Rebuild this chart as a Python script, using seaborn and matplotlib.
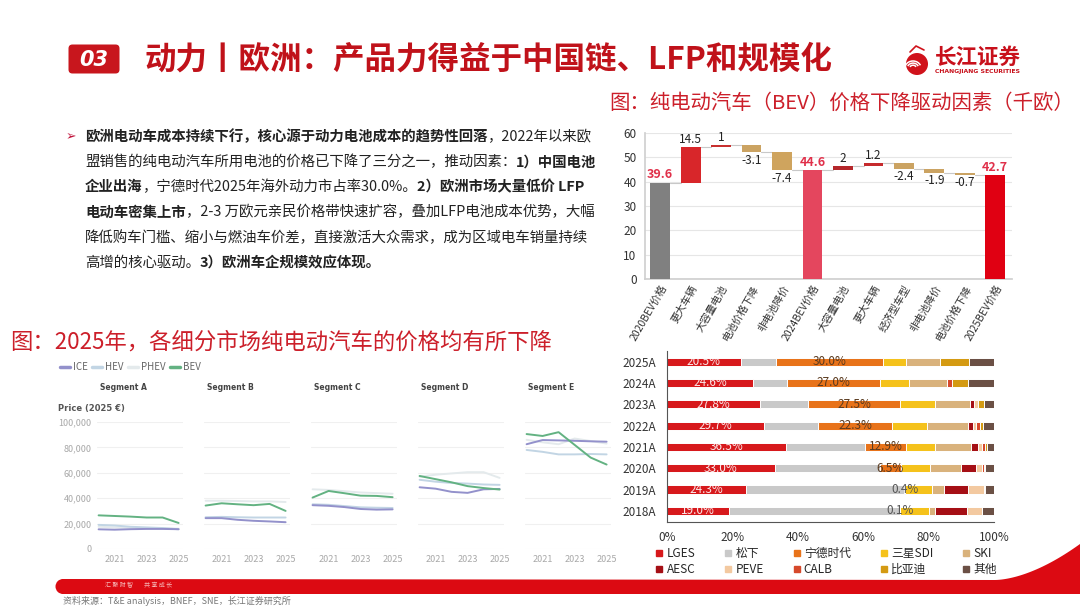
import numpy as np
import pandas as pd
import matplotlib
matplotlib.use("Agg")
import matplotlib.pyplot as plt
import seaborn as sns
from matplotlib.patches import FancyBboxPatch, Circle, Polygon, Arc
from matplotlib.lines import Line2D
from matplotlib.ticker import FuncFormatter

# ---------------- data ----------------
# waterfall: BEV price drivers (k EUR)
wf_labels = ["2020BEV价格", "更大车辆", "大容量电池", "电池价格下降", "非电池降价", "2024BEV价格",
             "大容量电池", "更大车辆", "经济型车型", "非电池降价", "电池价格下降", "2025BEV价格"]
wf_values = [39.6, 14.5, 1, -3.1, -7.4, 44.6, 2, 1.2, -2.4, -1.9, -0.7, 42.7]
wf_total = [True, False, False, False, False, True, False, False, False, False, False, True]
wf_colors = ["#808080", "#D8262A", "#C8302F", "#CBA362", "#CFA45E", "#E4465E",
             "#B5272B", "#C62A2D", "#CBA362", "#CBA362", "#CBA362", "#E00012"]

# battery maker share (%), 2025A at top
years = ["2025A", "2024A", "2023A", "2022A", "2021A", "2020A", "2019A", "2018A"]
makers = ["LGES", "松下", "宁德时代", "三星SDI", "SKI", "AESC", "PEVE", "CALB", "比亚迪", "其他"]
lges = [22.6, 26.4, 28.5, 29.7, 36.5, 33.0, 24.3, 19.0]
panasonic = [10.8, 10.3, 14.6, 16.6, 24.0, 32.0, 48.2, 52.3]
catl = [32.7, 28.5, 28.2, 22.5, 12.6, 6.5, 0.4, 0.1]
sdi = [6.9, 8.8, 10.7, 10.6, 8.8, 9.0, 8.2, 8.6]
ski = [10.6, 11.7, 10.8, 12.5, 11.0, 9.4, 3.5, 2.0]
aesc = [0.0, 0.0, 1.0, 1.7, 2.2, 4.5, 7.6, 9.8]
peve = [0.0, 0.0, 1.2, 1.0, 1.2, 2.0, 4.6, 4.6]
calb = [0.0, 1.5, 0.0, 1.0, 0.8, 0.4, 0.0, 0.0]
byd = [8.7, 5.0, 1.9, 0.9, 0.7, 0.4, 0.4, 0.0]
others = [7.7, 7.8, 3.1, 3.5, 2.2, 2.8, 2.8, 3.6]
lges_labels = ["20.5%", "24.6%", "27.8%", "29.7%", "36.5%", "33.0%", "24.3%", "19.0%"]
catl_labels = ["30.0%", "27.0%", "27.5%", "22.3%", "12.9%", "6.5%", "0.4%", "0.1%"]
maker_colors = ["#D7191C", "#C9C9C9", "#E8731A", "#F5C21B", "#D9B27C",
                "#A50F15", "#F3C9A0", "#D6492B", "#D49A12", "#6B5045"]

# price by segment (k EUR, 2025 money)
price_years = [2020, 2021, 2022, 2023, 2024, 2025]
segments = ["Segment A", "Segment B", "Segment C", "Segment D", "Segment E"]
ice = {"Segment A": [15.5, 15.2, 15.6, 15.8, 15.8, 15.6],
       "Segment B": [24.3, 24.3, 23.0, 22.2, 21.7, 21.1],
       "Segment C": [34.5, 34.0, 33.0, 31.5, 31.0, 31.2],
       "Segment D": [48.6, 47.5, 45.0, 44.2, 47.0, 47.3],
       "Segment E": [82.5, 85.8, 85.5, 85.2, 84.8, 84.5]}
hev = {"Segment A": [19.0, 18.5, 17.5, 17.0, 16.5, 15.5],
       "Segment B": [25.0, 25.3, 25.0, 24.8, 24.8, 24.8],
       "Segment C": [35.2, 34.8, 33.8, 32.8, 32.5, 32.3],
       "Segment D": [54.5, 53.0, 52.0, 51.5, 50.8, 50.5],
       "Segment E": [78.0, 76.5, 74.5, 74.5, 74.8, 74.5]}
phev = {"Segment A": [17.5, 17.0, 16.8, 16.5, 16.5, 16.0],
        "Segment B": [38.0, 38.0, 37.8, 37.5, 37.5, 37.0],
        "Segment C": [47.0, 46.5, 45.5, 44.5, 44.0, 43.5],
        "Segment D": [57.0, 58.5, 59.5, 60.5, 60.5, 56.0],
        "Segment E": [86.0, 84.0, 82.5, 87.0, 85.0, 83.0]}
bev = {"Segment A": [26.5, 26.0, 25.5, 24.8, 24.8, 20.5],
       "Segment B": [34.2, 36.0, 35.2, 34.5, 35.5, 30.0],
       "Segment C": [40.5, 45.7, 43.9, 42.0, 41.8, 40.8],
       "Segment D": [57.5, 55.0, 52.5, 49.5, 48.0, 46.8],
       "Segment E": [90.5, 89.0, 92.0, 82.0, 72.0, 66.5]}
line_colors = {"ICE": "#9391CB", "HEV": "#C2D5E4", "PHEV": "#E4EAEC", "BEV": "#63B282"}

# ---------------- setup ----------------
sns.set_theme(style="white")
plt.rcParams["font.family"] = ["Noto Sans CJK SC", "DejaVu Sans"]
plt.rcParams["axes.unicode_minus"] = False

W, H = 1080, 608
RED = "#C8161D"


def box(l, t, r, b):
    return [l / W, 1 - b / H, (r - l) / W, (b - t) / H]


fig = plt.figure(figsize=(10.8, 6.08), dpi=100)
bg = fig.add_axes([0, 0, 1, 1], zorder=0)
bg.set_xlim(0, W)
bg.set_ylim(H, 0)
bg.axis("off")

# header
bg.add_patch(FancyBboxPatch((70, 46), 48, 26, boxstyle="round,pad=1.5,rounding_size=4",
                            color=RED, lw=0))
bg.text(94, 60, "03", color="white", fontsize=15, fontweight="bold", style="italic",
        ha="center", va="center", family="DejaVu Sans")
bg.text(144, 60, "动力丨欧洲：产品力得益于中国链、LFP和规模化", color="#C0121A",
        fontsize=22.7, fontweight="bold", ha="left", va="center")

# logo
bg.add_patch(Circle((917, 64), 11, color="#D0121B", lw=0))
for r in (4, 7, 10):
    bg.add_patch(Arc((913, 68), r * 1.6, r * 1.4, theta1=200, theta2=340, color="white", lw=1.1))
bg.plot([910, 916, 924], [52, 46, 50], color="#D0121B", lw=1.2)
bg.text(935, 57, "长江证券", color="#C8101B", fontsize=15.5, fontweight="bold", ha="left", va="center")
bg.text(935, 71, "CHANGJIANG SECURITIES", color="#C8101B", fontsize=4.4, fontweight="bold",
        ha="left", va="center", family="DejaVu Sans")

bg.text(609, 103, "图：纯电动汽车（BEV）价格下降驱动因素（千欧）", color="#CC1F2A",
        fontsize=14.7, ha="left", va="center")
bg.text(10, 342, "图：2025年，各细分市场纯电动汽车的价格均有所下降", color="#CC1F2A",
        fontsize=16.1, ha="left", va="center")

# paragraph with mixed weights
para = [
    [("欧洲电动车成本持续下行，核心源于动力电池成本的趋势性回落", "bold"), ("，2022年以来欧", "normal")],
    [("盟销售的纯电动汽车所用电池的价格已下降了三分之一，推动因素：", "normal"), ("1）中国电池", "bold")],
    [("企业出海", "bold"), ("，宁德时代2025年海外动力市占率30.0%。", "normal"), ("2）欧洲市场大量低价 LFP", "bold")],
    [("电动车密集上市", "bold"), ("，2-3 万欧元亲民价格带快速扩容，叠加LFP电池成本优势，大幅", "normal")],
    [("降低购车门槛、缩小与燃油车价差，直接激活大众需求，成为区域电车销量持续", "normal")],
    [("高增的核心驱动。", "normal"), ("3）欧洲车企规模效应体现。", "bold")],
]
bg.text(66, 137, "➢", color="#C0143C", fontsize=9, ha="left", va="center",
        family=["DejaVu Sans"])
for i, parts in enumerate(para):
    y = 137 + i * 25.2
    t = bg.text(85, y, parts[0][0], fontsize=10.4, fontweight=parts[0][1], color="#222222",
                ha="left", va="center")
    for s, w in parts[1:]:
        t = bg.annotate(s, xy=(1, 0), xycoords=t, fontsize=10.4, fontweight=w,
                        color="#222222", ha="left", va="bottom")

# footer
xs = np.linspace(995, 1080, 40)
top = 580 - 36 * ((xs - 995) / 85) ** 1.7
pts = [(62, 579)] + list(zip(xs, top)) + [(1080, 594), (62, 594)]
bg.add_patch(Polygon(pts, closed=True, color="#DC0A12", lw=0))
bg.add_patch(Circle((63, 586.5), 7.5, color="#DC0A12", lw=0))
bg.text(105, 585, "汇 聚 财 智        共 享 成 长", color="#F6B8B8", fontsize=4.3,
        ha="left", va="center")
bg.text(63, 601, "资料来源：T&E analysis，BNEF，SNE，长江证券研究所", color="#777777",
        fontsize=6.5, ha="left", va="center")

# ---------------- waterfall ----------------
ax1 = fig.add_axes(box(645, 133, 1012, 279), zorder=1)
run = 0.0
bottoms, heights, levels = [], [], []
for v, tot in zip(wf_values, wf_total):
    if tot:
        b, h = 0.0, v
        run = v
    elif v >= 0:
        b, h = run, v
        run += v
    else:
        b, h = run + v, -v
        run += v
    bottoms.append(b)
    heights.append(h)
    levels.append(run)
pos = np.arange(len(wf_values))
ax1.bar(pos, heights, bottom=bottoms, width=0.65, color=wf_colors, lw=0, zorder=3)
for i in range(len(pos) - 1):
    ax1.plot([i + 0.325, i + 0.675], [levels[i], levels[i]], color="#C8C8C8", lw=0.8, zorder=2)
for i, (v, tot) in enumerate(zip(wf_values, wf_total)):
    txt = f"{v:g}"
    if tot:
        ax1.text(i, heights[i] + 0.6, txt, ha="center", va="bottom", color="#E0304A",
                 fontsize=9, fontweight="bold")
    elif v >= 0:
        ax1.text(i, bottoms[i] + heights[i] + 0.4, txt, ha="center", va="bottom",
                 color="#222222", fontsize=8.5)
    else:
        ax1.text(i, bottoms[i] - 0.5, txt, ha="center", va="top", color="#222222", fontsize=8.5)
ax1.set_xlim(-0.5, 11.55)
ax1.set_ylim(0, 60)
ax1.set_yticks(range(0, 61, 10))
ax1.set_xticks(pos)
ax1.set_xticklabels(wf_labels, rotation=60, ha="right", rotation_mode="anchor", fontsize=7.5,
                    color="#333333")
ax1.tick_params(axis="y", labelsize=8.5, colors="#333333", length=0, pad=6)
ax1.tick_params(axis="x", length=0, pad=3)
ax1.grid(axis="y", color="#E6E6E6", lw=0.8, zorder=0)
ax1.set_axisbelow(True)
for s in ("top", "right"):
    ax1.spines[s].set_visible(False)
ax1.spines["left"].set_color("#D0D0D0")
ax1.spines["bottom"].set_color("#D0D0D0")

# ---------------- stacked share bars ----------------
ax2 = fig.add_axes(box(667, 351, 994, 521.5), zorder=1)
shares = pd.DataFrame(dict(zip(makers, [lges, panasonic, catl, sdi, ski, aesc, peve, calb,
                                        byd, others])), index=years)
cum = shares.cumsum(axis=1)
for m, c in reversed(list(zip(makers, maker_colors))):
    sns.barplot(x=cum[m].values, y=years, color=c, width=0.38, saturation=1,
                edgecolor="white", linewidth=0.7, orient="h", ax=ax2)
lges_mid = cum["LGES"] - shares["LGES"] / 2
catl_mid = cum["宁德时代"] - shares["宁德时代"] / 2
for j in range(len(years)):
    ax2.text(lges_mid.iloc[j], j, lges_labels[j], ha="center", va="center", color="white",
             fontsize=8.5, alpha=0.9)
    ax2.text(catl_mid.iloc[j], j, catl_labels[j], ha="center", va="center",
             color="#5A3A1E" if shares["宁德时代"].iloc[j] > 3 else "#555555", fontsize=8.5)
ax2.set_xlim(0, 100)
ax2.set_ylim(len(years) - 0.5, -0.5)
ax2.set_xticks(range(0, 101, 20))
ax2.set_xticklabels([f"{v}%" for v in range(0, 101, 20)])
ax2.set_yticks(np.arange(-0.5, len(years), 1.0), minor=True)
ax2.tick_params(axis="y", which="major", length=0, labelsize=8.5, colors="#333333", pad=8)
ax2.tick_params(axis="y", which="minor", length=3, color="#555555", direction="out", width=0.8)
ax2.tick_params(axis="x", length=3, color="#555555", labelsize=8.5, colors="#333333", width=0.8)
ax2.set_xlabel("")
ax2.set_ylabel("")
for s in ("top", "right"):
    ax2.spines[s].set_visible(False)
ax2.spines["left"].set_color("#555555")
ax2.spines["bottom"].set_color("#555555")
ax2.spines["left"].set_linewidth(0.8)
ax2.spines["bottom"].set_linewidth(0.8)
# legend fills column by column, so interleave the two rows
order = [0, 5, 1, 6, 2, 7, 3, 8, 4, 9]
handles = [Line2D([], [], marker="s", ls="none", color=maker_colors[i], markersize=5) for i in order]
fig.legend(handles, [makers[i] for i in order], loc="upper left",
           bbox_to_anchor=(650 / W, 1 - 542 / H), ncol=5, frameon=False, fontsize=8.5,
           handletextpad=0.2, columnspacing=2.4, labelspacing=0.3, borderaxespad=0,
           handlelength=0.8)

# ---------------- price lines by segment ----------------
rows = []
for name, table in (("ICE", ice), ("HEV", hev), ("PHEV", phev), ("BEV", bev)):
    for seg in segments:
        for yr, v in zip(price_years, table[seg]):
            rows.append({"segment": seg, "type": name, "year": yr, "price": v * 1000})
prices = pd.DataFrame(rows)

lefts = [97, 204, 311, 418, 525]
for k, seg in enumerate(segments):
    ax = fig.add_axes(box(lefts[k], 422, lefts[k] + 86.4, 549), zorder=1)
    ax.set_facecolor("none")
    sns.lineplot(data=prices[prices["segment"] == seg], x="year", y="price", hue="type",
                 hue_order=["PHEV", "HEV", "ICE", "BEV"], palette=line_colors, linewidth=1.4,
                 legend=False, ax=ax)
    ax.set_xlim(2019.9, 2025.3)
    ax.set_ylim(0, 100000)
    ax.set_xticks([2021, 2023, 2025])
    ax.set_yticks(range(0, 100001, 20000))
    ax.grid(axis="y", color="#F0F0F0", lw=0.8)
    ax.set_axisbelow(True)
    ax.tick_params(length=0, labelsize=6.5, colors="#A8A8A8", pad=4)
    ax.yaxis.set_major_formatter(FuncFormatter(lambda v, p: f"{v:,.0f}"))
    if k > 0:
        ax.set_yticklabels([])
    ax.set_xlabel("")
    ax.set_ylabel("")
    for s in ax.spines.values():
        s.set_visible(False)
    bg.text(lefts[k] + 3, 388, seg, fontsize=5.5, fontweight="bold", color="#444444",
            ha="left", va="center", family="DejaVu Sans")

bg.text(58, 408, "Price (2025 €)", fontsize=6, fontweight="bold", color="#555555",
        ha="left", va="center", family="DejaVu Sans")
lh = [Line2D([], [], color=line_colors[n], lw=2.5) for n in ["ICE", "HEV", "PHEV", "BEV"]]
leg = fig.legend(lh, ["ICE", "HEV", "PHEV", "BEV"], loc="center left",
                 bbox_to_anchor=(56 / W, 1 - 367 / H), ncol=4, frameon=False, fontsize=7,
                 handlelength=1.0, handletextpad=0.3, columnspacing=0.5, borderaxespad=0)
for t in leg.get_texts():
    t.set_color("#666666")

fig.savefig("out.png", dpi=100, facecolor="white")
